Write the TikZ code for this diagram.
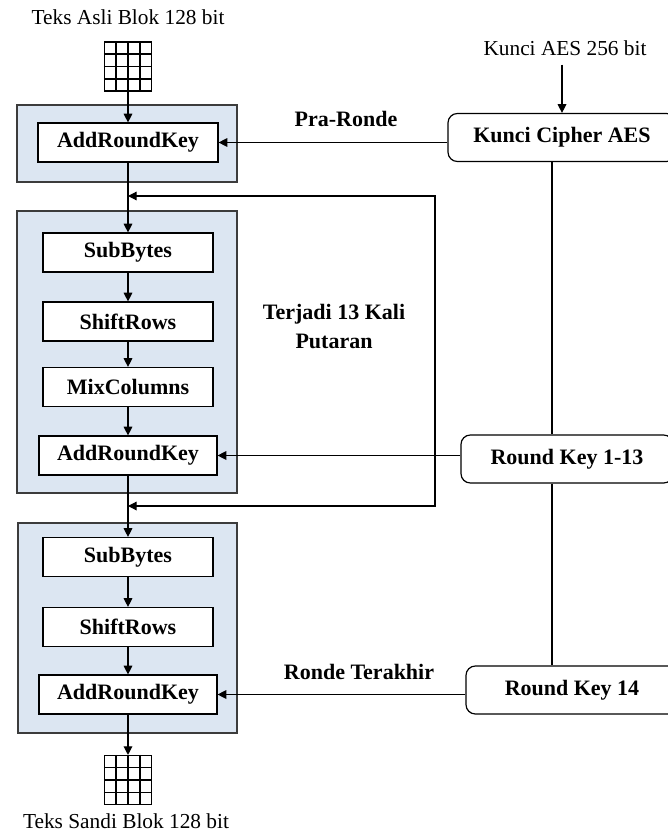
\documentclass[tikz,border=0pt]{standalone}
\usepackage{fontspec}
\setmainfont{Liberation Serif}
\usetikzlibrary{arrows.meta,calc}
\definecolor{stagefill}{RGB}{220,230,242}
\definecolor{stageline}{RGB}{60,60,60}

\def\ux{0.75pt}
\def\uy{-0.75pt}

\begin{document}
\begin{tikzpicture}[x=\ux,y=\uy, line width=0.9pt,
    >={Triangle[length=6.5pt,width=6.5pt]}]
		\tikzset{
			stage/.style={fill=stagefill, draw=stageline},
			op/.style={draw, fill=white, inner sep=0pt, minimum height=29.25pt,
			  minimum width=#1, font=\fontsize{16.5}{19}\selectfont\bfseries},
			op/.default=127.5pt,
			keybox/.style={draw, fill=white, rounded corners=7pt, inner sep=0pt,
			  minimum height=36pt, minimum width=#1,
			  font=\fontsize{16.5}{19}\selectfont\bfseries},
			lbl/.style={font=\fontsize{16}{19}\selectfont},
			blbl/.style={font=\fontsize{16.5}{21.75}\selectfont\bfseries, align=center},
			block/.style={draw, line width=0.8pt, inner sep=0pt,
			  minimum width=35.25pt, minimum height=36.75pt},
		}
		\useasboundingbox (0,0) rectangle (667,834);

		% shaded stages
		\draw[stage] (17,105) rectangle (237,182);
		\draw[stage] (17,211) rectangle (237,493);
		\draw[stage] (18,523) rectangle (237,733);

		\node[lbl] (plain) at (128,17) {Teks Asli Blok 128 bit};
		\node[block] (gin) at (128,66.5) {};
		\node[op=135pt] (ark0) at (128,142.5) {AddRoundKey};

		\node[op] (sbR) at (128,252.5) {SubBytes};
		\node[op] (srR) at (128,321.5) {ShiftRows};
		\node[op] (mcR) at (128,387) {MixColumns};
		\node[op=133.5pt] (arkR) at (128,455.5) {AddRoundKey};

		\node[op] (sbF) at (128,557) {SubBytes};
		\node[op] (srF) at (128,627) {ShiftRows};
		\node[op=133.5pt] (arkF) at (128,694.5) {AddRoundKey};

		\node[block] (gout) at (128,780) {};
		\node[lbl] (cipher) at (126,821) {Teks Sandi Blok 128 bit};

		% 4x4 state grids
		\foreach \g in {gin,gout}{
		  \foreach \k in {1,2,3}{
		    \draw[line width=0.8pt] ($(\g.north west)!\k/4!(\g.north east)$) -- ($(\g.south west)!\k/4!(\g.south east)$);
		    \draw[line width=0.8pt] ($(\g.north west)!\k/4!(\g.south west)$) -- ($(\g.north east)!\k/4!(\g.south east)$);
		  }
		}

		% key side
		\node[lbl] (keyin) at (565,48) {Kunci AES 256 bit};
		\node[keybox=171pt] (kca) at (562,137.5) {Kunci Cipher AES};
		\node[keybox=159pt] (rk13) at (567,459) {Round Key 1-13};
		\node[keybox=159pt] (rk14) at (572,690) {Round Key 14};
		\coordinate (spine) at (552,0);

		\draw[->, shorten <=3pt] (keyin.south -| kca.north) -- (kca.north);
		\draw (kca.south -| spine) -- (rk13.north -| spine);
		\draw (rk13.south -| spine) -- (rk14.north -| spine);

		\draw[->] (ark0.east -| kca.west) -- (ark0.east);
		\draw[->] (arkR.east -| rk13.west) -- (arkR.east);
		\draw[->] (arkF.east -| rk14.west) -- (arkF.east);

		\node[blbl] (pre) at (346,119) {Pra-Ronde};
		\node[blbl] (loopnote) at (334,326) {Terjadi 13 Kali\\Putaran};
		\node[blbl] (last) at (359,672) {Ronde Terakhir};

		% main flow
		\foreach \a/\b in {gin/ark0, ark0/sbR, sbR/srR, srR/mcR, mcR/arkR,
		                   arkR/sbF, sbF/srF, srF/arkF, arkF/gout}{
		  \draw[->] (\a) -- (\b);
		}

		% round loop
		\coordinate (loopTop) at (435,196);
		\coordinate (loopBot) at (435,506);
		\draw[<->] (loopTop -| ark0.south) -- (loopTop) -- (loopBot) -- (loopBot -| ark0.south);
\end{tikzpicture}
\end{document}
